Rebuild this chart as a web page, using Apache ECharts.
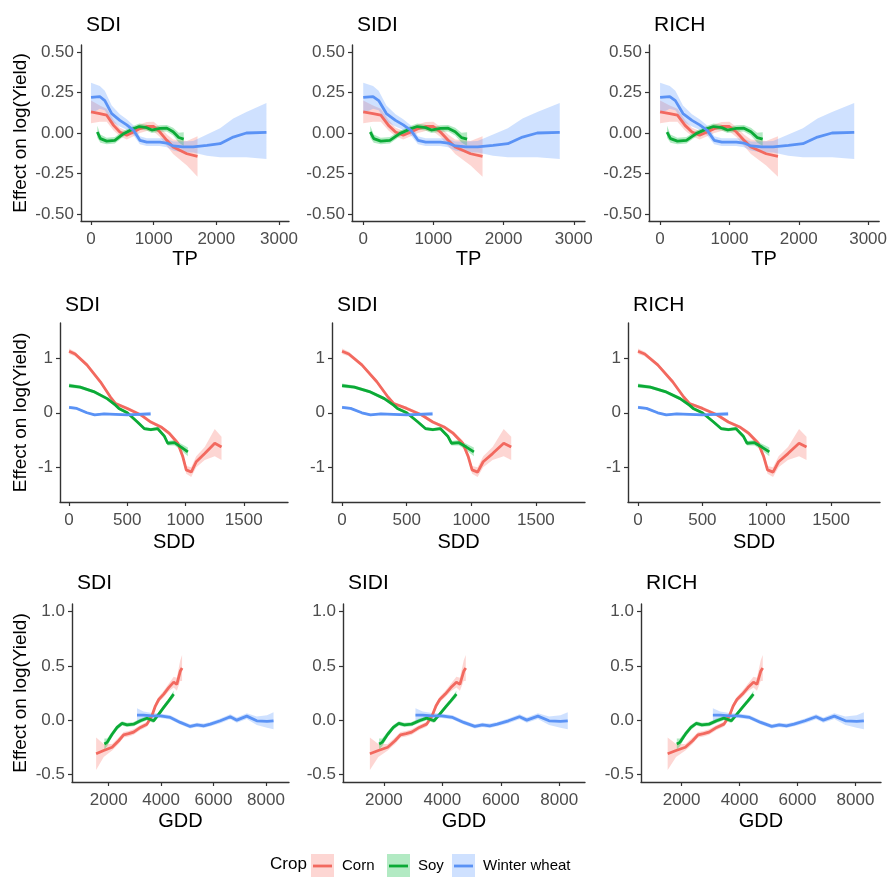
<!DOCTYPE html>
<html>
<head>
<meta charset="utf-8">
<script src="https://cdn.jsdelivr.net/npm/echarts@6/dist/echarts.min.js"></script>
<style>
  html, body { margin: 0; padding: 0; background: #fff; }
  #chart { width: 890px; height: 877px; }
</style>
</head>
<body>
<div id="chart"></div>
<script>
(function() {
  var font = 'Liberation Sans, Arial, sans-serif';
  var crops = ['Corn', 'Soy', 'Winter wheat'];
  var lineColors = ['#F2695F', '#0BAA36', '#5A92F5'];
  var bandColors = ['rgba(248,118,109,0.3)', 'rgba(0,186,56,0.3)', 'rgba(97,156,255,0.3)'];
  var panelTitles = ['SDI', 'SIDI', 'RICH'];
  var rowVars = ['TP', 'SDD', 'GDD'];

  // each point: [x, fit, lower, upper]
  var tpCorn = [
    [0, 0.13, 0.06, 0.20], [140, 0.12, 0.07, 0.17], [250, 0.11, 0.07, 0.15],
    [360, 0.047, 0.015, 0.08], [460, 0.006, -0.02, 0.032], [570, -0.014, -0.04, 0.012],
    [680, 0.006, -0.02, 0.032], [780, 0.027, 0.0, 0.054], [890, 0.04, 0.012, 0.068],
    [1000, 0.04, 0.01, 0.07], [1100, 0.006, -0.025, 0.037], [1210, -0.045, -0.08, -0.01],
    [1310, -0.086, -0.13, -0.04], [1530, -0.128, -0.2, -0.05], [1700, -0.144, -0.27, -0.02]
  ];
  var tpSoy = [
    [100, 0.006, -0.03, 0.045], [150, -0.035, -0.06, -0.01], [250, -0.05, -0.07, -0.03],
    [380, -0.045, -0.065, -0.025], [520, -0.004, -0.022, 0.014], [680, 0.027, 0.01, 0.044],
    [770, 0.04, 0.022, 0.058], [890, 0.033, 0.015, 0.051], [970, 0.018, 0.0, 0.036],
    [1100, 0.028, 0.008, 0.048], [1210, 0.03, 0.01, 0.05], [1310, 0.008, -0.016, 0.032],
    [1400, -0.028, -0.058, 0.002], [1480, -0.038, -0.08, 0.004]
  ];
  var tpWheat = [
    [0, 0.22, 0.12, 0.31], [140, 0.225, 0.15, 0.29], [220, 0.20, 0.14, 0.26],
    [330, 0.12, 0.07, 0.17], [460, 0.078, 0.04, 0.115], [570, 0.05, 0.02, 0.085],
    [680, 0.016, -0.015, 0.047], [780, -0.045, -0.07, -0.02], [890, -0.056, -0.08, -0.032],
    [1100, -0.056, -0.08, -0.032], [1210, -0.062, -0.088, -0.036], [1310, -0.08, -0.108, -0.052],
    [1470, -0.086, -0.12, -0.052], [1630, -0.086, -0.12, -0.05], [1850, -0.076, -0.14, -0.01],
    [2060, -0.066, -0.15, 0.03], [2270, -0.025, -0.15, 0.09], [2480, 0.0, -0.15, 0.13],
    [2800, 0.004, -0.16, 0.185]
  ];

  var sddCorn = [
    [0, 1.13, 1.08, 1.18], [52, 1.08, 1.04, 1.12], [153, 0.88, 0.85, 0.91],
    [269, 0.57, 0.54, 0.60], [355, 0.29, 0.26, 0.32], [399, 0.17, 0.14, 0.20],
    [500, 0.08, 0.05, 0.11], [616, -0.04, -0.07, -0.01], [702, -0.17, -0.20, -0.14],
    [789, -0.26, -0.29, -0.23], [861, -0.38, -0.42, -0.34], [934, -0.56, -0.61, -0.51],
    [977, -0.81, -0.87, -0.75], [1006, -1.05, -1.12, -0.98], [1049, -1.09, -1.18, -1.0],
    [1092, -0.90, -1.0, -0.80], [1165, -0.75, -0.87, -0.63], [1251, -0.56, -0.80, -0.30],
    [1309, -0.63, -0.87, -0.44]
  ];
  var sddSoy = [
    [0, 0.50, 0.46, 0.54], [95, 0.47, 0.44, 0.50], [211, 0.39, 0.36, 0.42],
    [327, 0.26, 0.23, 0.29], [399, 0.14, 0.11, 0.17], [428, 0.08, 0.05, 0.11],
    [500, 0.0, -0.03, 0.03], [587, -0.17, -0.20, -0.14], [645, -0.29, -0.32, -0.26],
    [702, -0.31, -0.34, -0.28], [760, -0.29, -0.32, -0.26], [818, -0.43, -0.47, -0.39],
    [847, -0.56, -0.60, -0.52], [905, -0.55, -0.60, -0.50], [962, -0.63, -0.69, -0.57],
    [1020, -0.72, -0.80, -0.64]
  ];
  var sddWheat = [
    [0, 0.10, 0.07, 0.13], [66, 0.08, 0.06, 0.10], [153, 0.0, -0.02, 0.02],
    [220, -0.04, -0.06, -0.02], [300, -0.02, -0.04, 0.0], [400, -0.03, -0.05, -0.01],
    [500, -0.04, -0.06, -0.02], [600, -0.03, -0.06, 0.0], [700, -0.02, -0.06, 0.02]
  ];

  var gddCorn = [
    [1520, -0.31, -0.46, -0.16], [1810, -0.28, -0.34, -0.22], [2130, -0.25, -0.28, -0.22],
    [2380, -0.19, -0.22, -0.16], [2570, -0.135, -0.16, -0.11], [2760, -0.125, -0.15, -0.10],
    [2950, -0.11, -0.135, -0.085], [3210, -0.067, -0.09, -0.044], [3460, -0.037, -0.06, -0.014],
    [3650, 0.04, 0.015, 0.065], [3780, 0.13, 0.105, 0.155], [3910, 0.19, 0.165, 0.215],
    [4100, 0.24, 0.21, 0.27], [4290, 0.30, 0.265, 0.335], [4480, 0.35, 0.30, 0.40],
    [4600, 0.33, 0.27, 0.39], [4730, 0.45, 0.36, 0.55], [4800, 0.48, 0.36, 0.60]
  ];
  var gddSoy = [
    [1835, -0.22, -0.27, -0.17], [1940, -0.205, -0.24, -0.17], [2130, -0.13, -0.155, -0.105],
    [2320, -0.067, -0.09, -0.044], [2510, -0.03, -0.05, -0.01], [2700, -0.043, -0.063, -0.023],
    [2950, -0.037, -0.057, -0.017], [3210, -0.006, -0.026, 0.014], [3460, 0.018, -0.002, 0.038],
    [3715, -0.006, -0.026, 0.014], [3910, 0.055, 0.035, 0.075], [4100, 0.117, 0.095, 0.14],
    [4290, 0.178, 0.155, 0.2], [4480, 0.24, 0.21, 0.27]
  ];
  var gddWheat = [
    [3080, 0.046, -0.02, 0.11], [3330, 0.046, 0.01, 0.08], [3650, 0.04, 0.015, 0.065],
    [3970, 0.04, 0.02, 0.06], [4350, 0.025, 0.005, 0.045], [4730, -0.021, -0.04, -0.002],
    [5110, -0.058, -0.078, -0.038], [5370, -0.043, -0.063, -0.023], [5620, -0.052, -0.072, -0.032],
    [5880, -0.037, -0.057, -0.017], [6260, -0.006, -0.028, 0.016], [6640, 0.031, 0.008, 0.054],
    [6890, 0.0, -0.025, 0.025], [7270, 0.037, 0.01, 0.064], [7650, -0.006, -0.045, 0.033],
    [8040, -0.012, -0.07, 0.046], [8290, -0.006, -0.085, 0.073]
  ];

  var rowData = [
    [tpCorn, tpSoy, tpWheat],
    [sddCorn, sddSoy, sddWheat],
    [gddCorn, gddSoy, gddWheat]
  ];

  var xTicks = [[0, 1000, 2000, 3000], [0, 500, 1000, 1500], [2000, 4000, 6000, 8000]];
  var yTicks = [[-0.5, -0.25, 0, 0.25, 0.5], [-1, 0, 1], [-0.5, 0, 0.5, 1.0]];
  var yDigits = [2, 0, 1];
  var xRange = [[-160, 3160], [-78, 1880], [600, 8880]];
  var yRange = [[-0.543, 0.543], [-1.64, 1.65], [-0.57, 1.07]];

  // panel layout (pixels)
  var rowTop = [45, 323, 604];
  var rowHeight = [176, 179, 178];
  var titleTop = [10, 290, 568];
  var colLeft = [[81, 352, 649], [60, 332, 628], [72, 343, 641]];
  var colWidth = [[208, 233, 232], [228, 253, 252], [217, 242, 240]];
  var yNameGap = [51, 30, 42];
  var xNameGap = [28, 30, 29];

  var grids = [], xAxes = [], yAxes = [], titles = [], series = [];
  var axisColor = '#333';

  // confidence ribbon as one polygon through the axis scales
  function bandRenderer(n, color) {
    return function(params, api) {
      if (params.dataIndex !== 0) return;
      var upper = [], lower = [];
      for (var i = 0; i < n; i++) {
        upper.push(api.coord([api.value(0, i), api.value(2, i)]));
        lower.unshift(api.coord([api.value(0, i), api.value(1, i)]));
      }
      return {
        type: 'polygon',
        shape: { points: upper.concat(lower) },
        style: { fill: color }
      };
    };
  }

  for (var r = 0; r < 3; r++) {
    for (var c = 0; c < 3; c++) {
      var g = r * 3 + c;
      grids.push({ left: colLeft[r][c], top: rowTop[r], width: colWidth[r][c], height: rowHeight[r] });
      titles.push({
        text: panelTitles[c], left: colLeft[r][c], top: titleTop[r],
        textStyle: { fontFamily: font, fontSize: 21, fontWeight: 'normal', color: '#000' }
      });
      xAxes.push({
        type: 'value', gridIndex: g, min: xRange[r][0], max: xRange[r][1],
        name: rowVars[r], nameLocation: 'middle', nameGap: xNameGap[r],
        nameTextStyle: { fontFamily: font, fontSize: 20, color: '#000' },
        axisLine: { show: true, onZero: false, lineStyle: { color: axisColor, width: 1.4 } },
        axisTick: { show: true, length: 4, customValues: xTicks[r], lineStyle: { color: axisColor, width: 1.2 } },
        axisLabel: {
          customValues: xTicks[r], margin: 10, fontFamily: font, fontSize: 17, color: '#4D4D4D',
          formatter: function(v) { return String(v); }
        },
        splitLine: { show: false }
      });
      var digits = yDigits[r];
      yAxes.push({
        type: 'value', gridIndex: g, min: yRange[r][0], max: yRange[r][1],
        name: c === 0 ? 'Effect on log(Yield)' : '', nameLocation: 'middle', nameGap: yNameGap[r],
        nameTextStyle: { fontFamily: font, fontSize: 19, color: '#000' },
        axisLine: { show: true, onZero: false, lineStyle: { color: axisColor, width: 1.4 } },
        axisTick: { show: true, length: 4, customValues: yTicks[r], lineStyle: { color: axisColor, width: 1.2 } },
        axisLabel: {
          customValues: yTicks[r], margin: 7, fontFamily: font, fontSize: 17, color: '#4D4D4D',
          formatter: (function(d) { return function(v) { return v.toFixed(d); }; })(digits)
        },
        splitLine: { show: false }
      });

      rowData[r].forEach(function(pts, k) {
        series.push({
          type: 'custom', xAxisIndex: g, yAxisIndex: g, silent: true, z: 1, clip: true,
          data: pts.map(function(p) { return [p[0], p[2], p[3]]; }),
          encode: { x: 0, y: [1, 2] },
          renderItem: bandRenderer(pts.length, bandColors[k])
        });
      });
      rowData[r].forEach(function(pts, k) {
        series.push({
          name: crops[k], type: 'line', xAxisIndex: g, yAxisIndex: g,
          data: pts.map(function(p) { return [p[0], p[1]]; }),
          symbol: 'none', lineStyle: { color: lineColors[k], width: 2.8 }, z: 2
        });
      });
    }
  }

  // legend drawn as key boxes with a line through them
  var legendKeyX = [311, 387, 452];
  var legendY = 866;
  var legendItems = [{
    type: 'text', left: 270, top: legendY - 10,
    style: { text: 'Crop', fontFamily: font, fontSize: 17, fill: '#000' }
  }];
  crops.forEach(function(name, k) {
    var x = legendKeyX[k];
    legendItems.push({ type: 'rect', shape: { x: x, y: legendY - 12, width: 23, height: 24 }, style: { fill: bandColors[k] } });
    legendItems.push({ type: 'line', shape: { x1: x + 2, y1: legendY, x2: x + 21, y2: legendY }, style: { stroke: lineColors[k], lineWidth: 2.8 } });
    legendItems.push({
      type: 'text', left: x + 31, top: legendY - 8,
      style: { text: name, fontFamily: font, fontSize: 15, fill: '#000' }
    });
  });

  var chart = echarts.init(document.getElementById('chart'), null, { renderer: 'canvas' });
  chart.setOption({
    animation: false,
    backgroundColor: '#fff',
    title: titles,
    grid: grids,
    xAxis: xAxes,
    yAxis: yAxes,
    series: series,
    graphic: legendItems
  });
  window.addEventListener('resize', function() { chart.resize(); });
})();
</script>
</body>
</html>
